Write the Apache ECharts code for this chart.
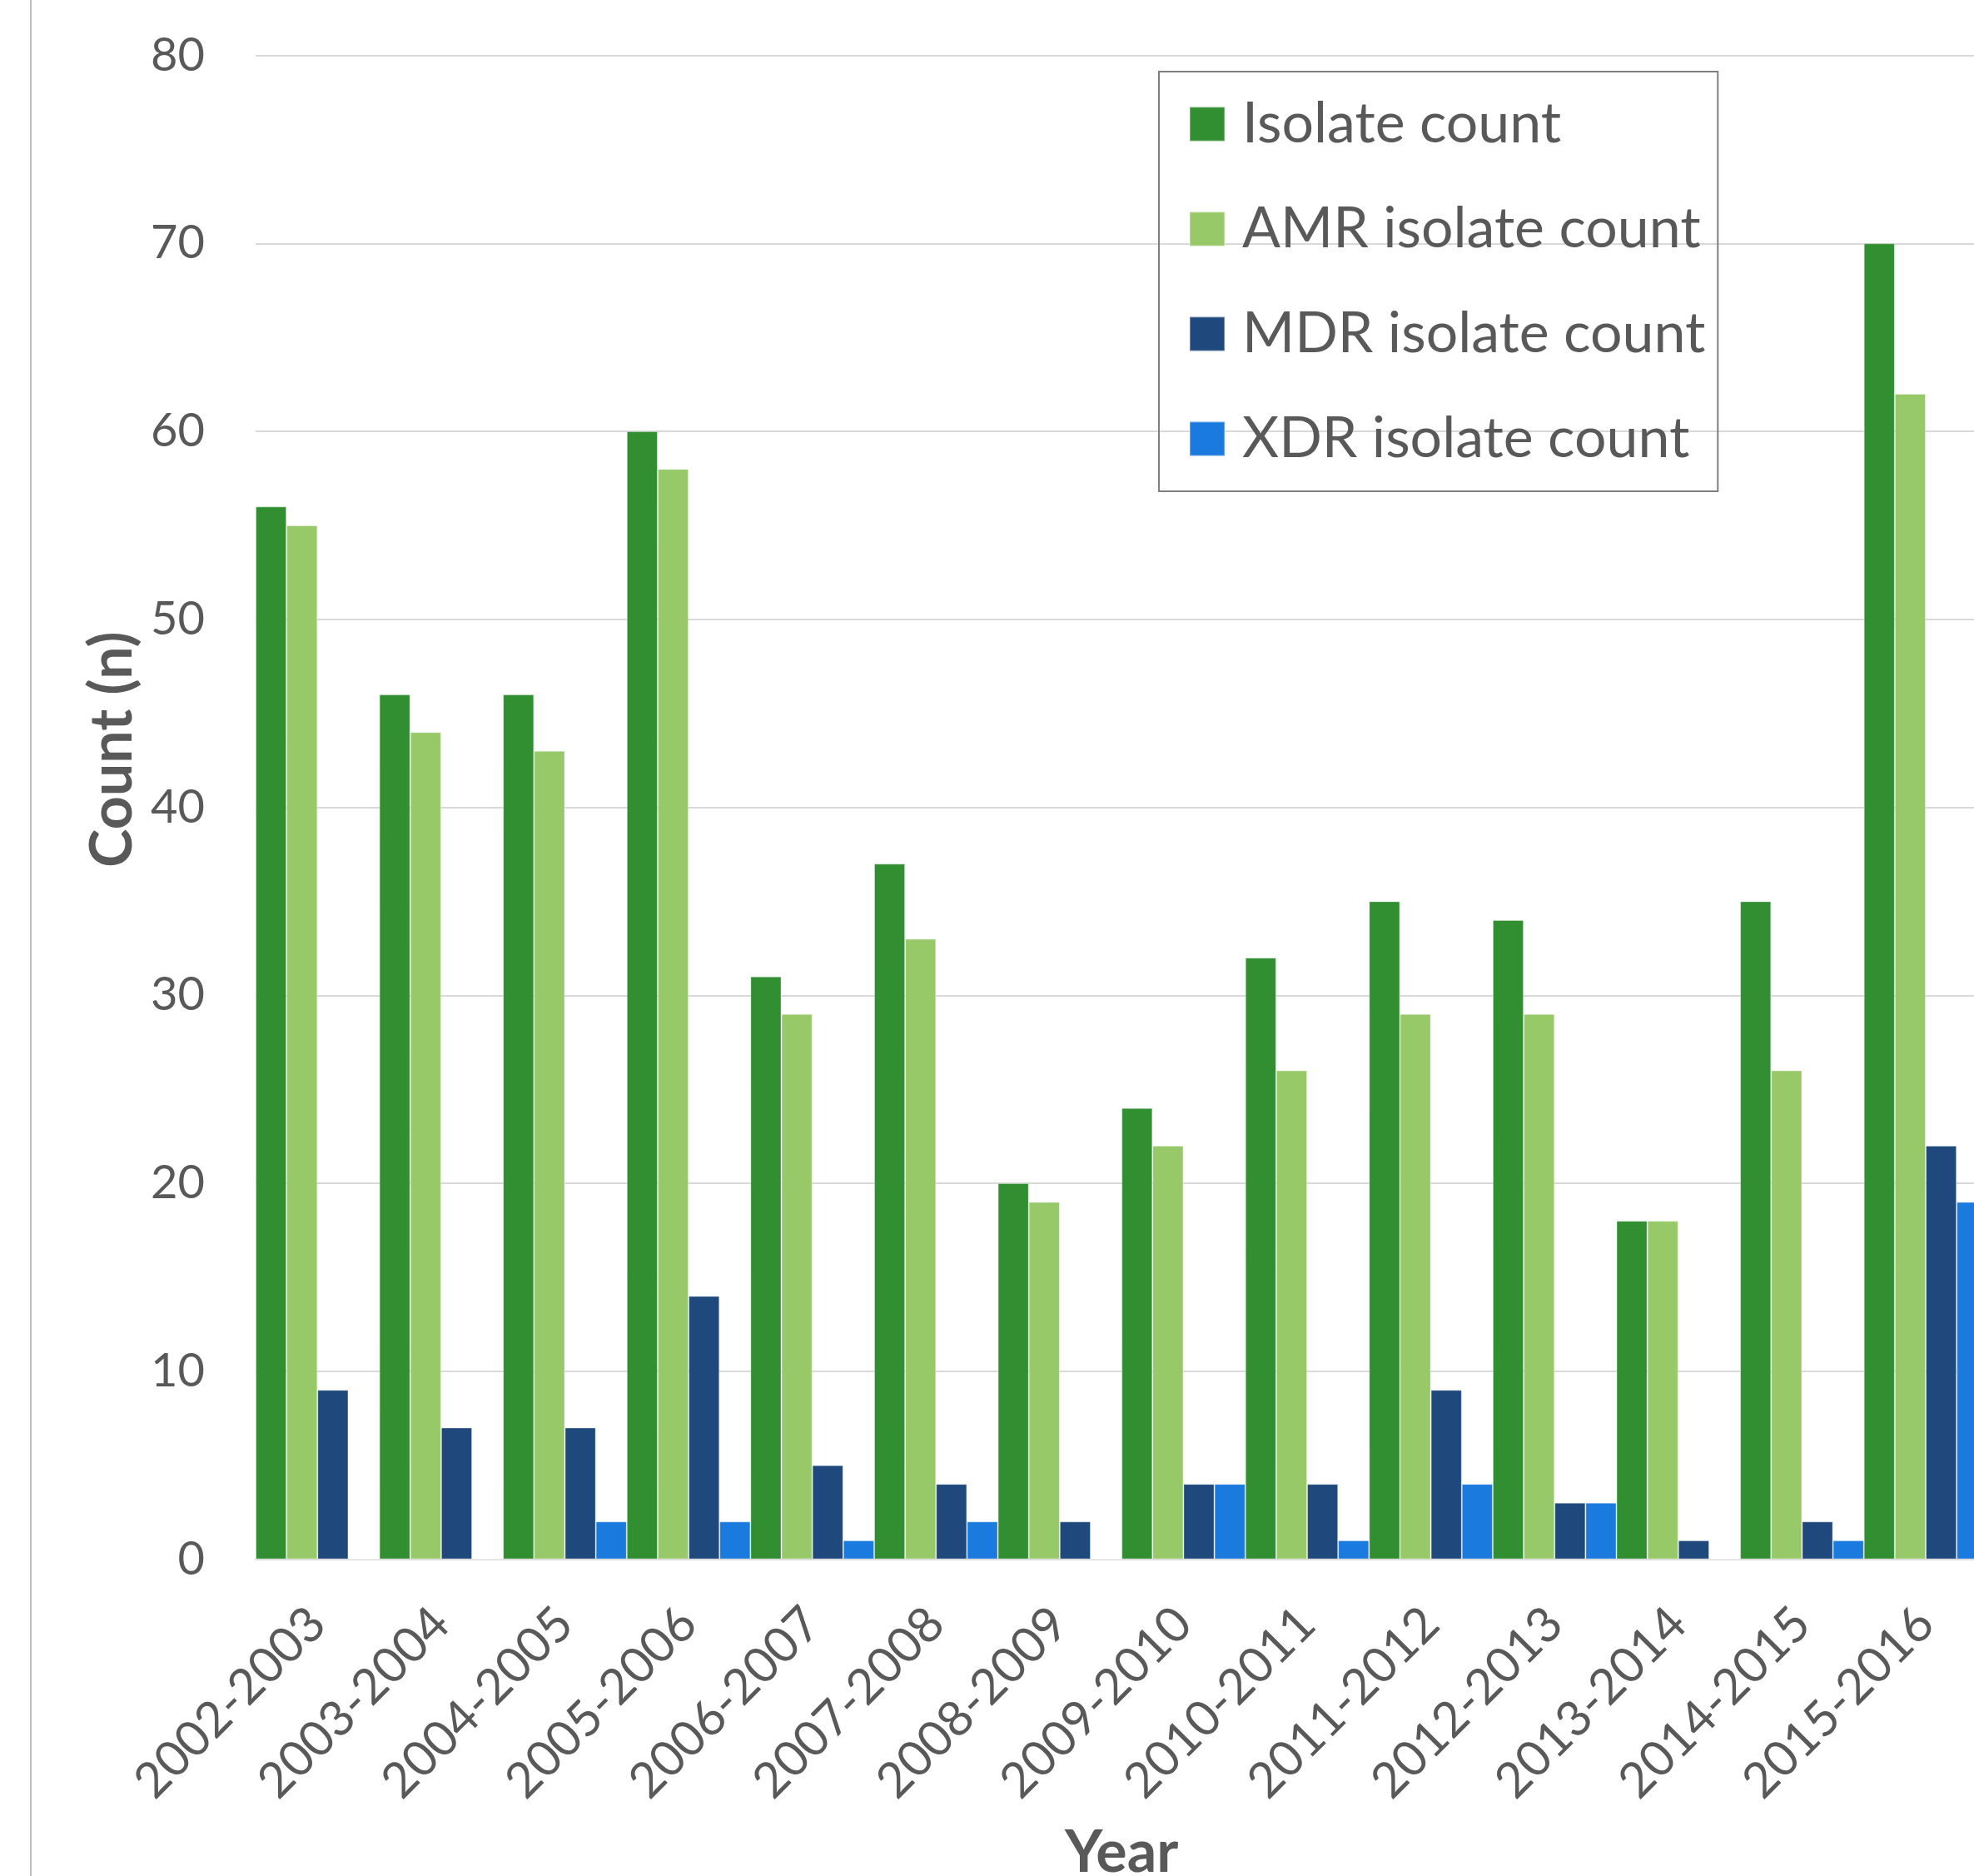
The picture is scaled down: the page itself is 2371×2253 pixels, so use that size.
<!DOCTYPE html>
<html>
<head>
<meta charset="utf-8">
<title>Isolate counts by year</title>
<script src="https://cdn.jsdelivr.net/npm/echarts@6/dist/echarts.min.js"></script>
<style>
  html, body { margin: 0; padding: 0; background: #ffffff; }
  #chart { width: 2371px; height: 2253px; }
</style>
</head>
<body>
<div id="chart"></div>
<script>
// Survey years (x-axis categories)
const years = [
  '2002-2003', '2003-2004', '2004-2005', '2005-2006', '2006-2007',
  '2007-2008', '2008-2009', '2009-2010', '2010-2011', '2011-2012',
  '2012-2013', '2013-2014', '2014-2015', '2015-2016'
];

// Counts per year for each isolate class
const isolateCount = [56, 46, 46, 60, 31, 37, 20, 24, 32, 35, 34, 18, 35, 70];
const amrCount     = [55, 44, 43, 58, 29, 33, 19, 22, 26, 29, 29, 18, 26, 62];
const mdrCount     = [ 9,  7,  7, 14,  5,  4,  2,  4,  4,  9,  3,  1,  2, 22];
const xdrCount     = [ 0,  0,  2,  2,  1,  2,  0,  4,  1,  4,  3,  0,  1, 19];

const seriesNames = ['Isolate count', 'AMR isolate count', 'MDR isolate count', 'XDR isolate count'];
const seriesColors = ['#318e31', '#97c969', '#1f497c', '#1b7ade'];

const FONT = 'Lato, Carlito, "Noto Sans", sans-serif';
const TEXT = '#595959';

const chart = echarts.init(document.getElementById('chart'), null, { renderer: 'canvas' });

function barSeries(name, values, color) {
  return {
    name: name,
    type: 'bar',
    data: values,
    barGap: '0%',
    barCategoryGap: '0%',
    itemStyle: {
      color: color,
      borderColor: 'rgba(255,255,255,0.35)',
      borderWidth: 1
    },
    emphasis: { disabled: true }
  };
}

chart.setOption({
  animation: false,
  backgroundColor: '#ffffff',
  textStyle: { fontFamily: FONT },
  // the plot area runs slightly past the right edge of the canvas
  grid: {
    left: 307,
    right: -16.3,
    top: 66.6,
    bottom: 380.5,
    containLabel: false,
    outerBoundsMode: 'none'
  },
  legend: {
    orient: 'vertical',
    left: 1392,
    top: 86,
    padding: [23, 15, 23, 36],
    itemWidth: 42,
    itemHeight: 41,
    itemGap: 46,
    borderColor: '#7f7f7f',
    borderWidth: 2,
    icon: 'rect',
    selectedMode: false,
    textStyle: {
      fontFamily: FONT,
      fontSize: 68,
      color: TEXT,
      lineHeight: 80,
      padding: [0, 0, 0, 16]
    },
    data: seriesNames
  },
  xAxis: {
    type: 'category',
    data: years,
    name: 'Year',
    nameLocation: 'middle',
    nameGap: 318,
    nameTextStyle: {
      fontFamily: FONT,
      fontWeight: 'bold',
      fontSize: 70,
      color: TEXT
    },
    axisLine: { show: true, lineStyle: { color: '#d9d9d9', width: 2 } },
    axisTick: { show: false },
    axisLabel: {
      rotate: 45,
      margin: 68,
      fontFamily: FONT,
      fontSize: 59,
      color: TEXT,
      interval: 0
    }
  },
  yAxis: {
    type: 'value',
    min: 0,
    max: 80,
    interval: 10,
    name: 'Count (n)',
    nameLocation: 'middle',
    nameRotate: 90,
    nameGap: 130,
    nameTextStyle: {
      fontFamily: FONT,
      fontWeight: 'bold',
      fontSize: 70,
      color: TEXT,
      padding: [0, 0, 0, 139]
    },
    axisLine: { show: false },
    axisTick: { show: false },
    axisLabel: {
      margin: 61,
      fontFamily: FONT,
      fontSize: 56,
      color: TEXT
    },
    splitLine: { lineStyle: { color: '#d9d9d9', width: 2 } }
  },
  graphic: [
    {
      // outer chart-area border
      type: 'rect',
      silent: true,
      z: 0,
      shape: { x: 37, y: -10, width: 4000, height: 4000 },
      style: { fill: 'none', stroke: '#bfbfbf', lineWidth: 2 }
    }
  ],
  series: [
    barSeries(seriesNames[0], isolateCount, seriesColors[0]),
    barSeries(seriesNames[1], amrCount, seriesColors[1]),
    barSeries(seriesNames[2], mdrCount, seriesColors[2]),
    barSeries(seriesNames[3], xdrCount, seriesColors[3])
  ]
});
</script>
</body>
</html>
